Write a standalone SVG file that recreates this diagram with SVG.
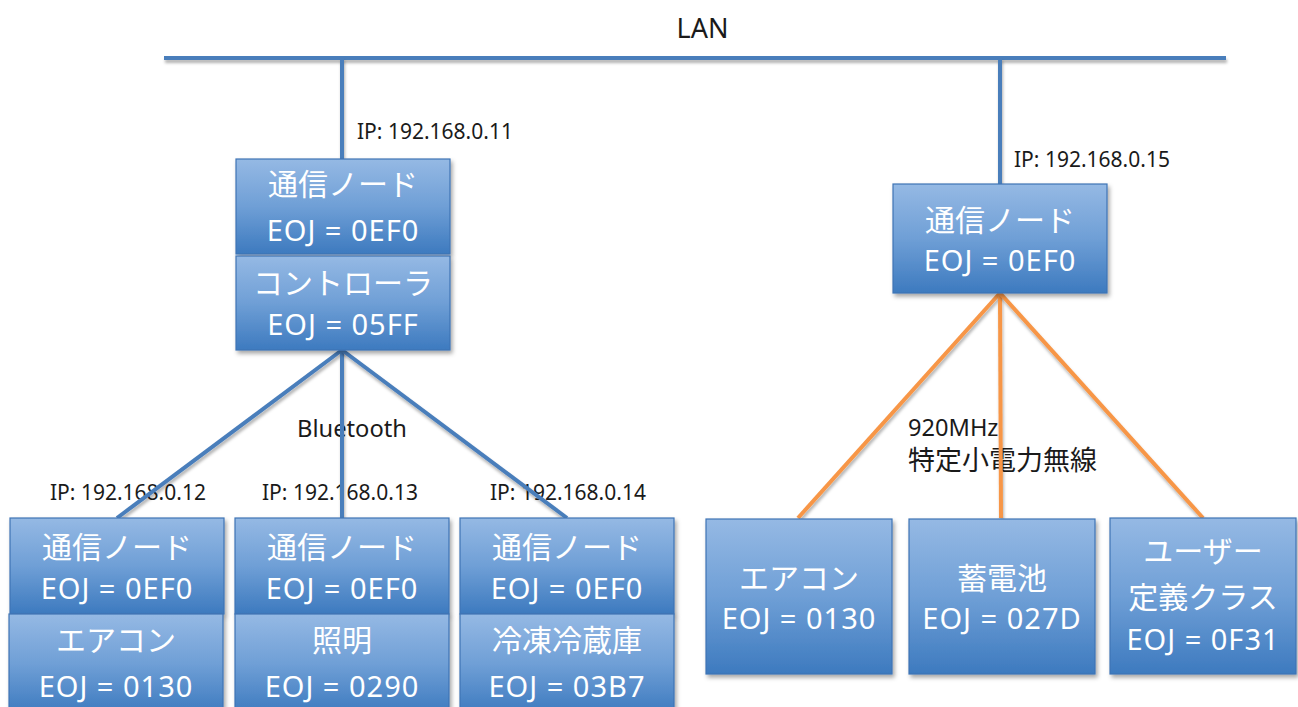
<svg xmlns="http://www.w3.org/2000/svg" width="1298" height="707" viewBox="0 0 1298 707">
  <defs>
    <linearGradient id="boxFill" x1="0" y1="0" x2="0" y2="1">
      <stop offset="0" stop-color="#95b9e4"/>
      <stop offset="0.5" stop-color="#6f9fd6"/>
      <stop offset="1" stop-color="#3d7abf"/>
    </linearGradient>
    <filter id="shadow" x="-10%" y="-10%" width="125%" height="130%">
      <feDropShadow dx="2" dy="3" stdDeviation="2" flood-color="#000" flood-opacity="0.35"/>
    </filter>
    <filter id="lineShadow" filterUnits="userSpaceOnUse" x="0" y="0" width="1298" height="707">
      <feDropShadow dx="1" dy="3" stdDeviation="1.5" flood-color="#000" flood-opacity="0.3"/>
    </filter>
  </defs>
  <style>
    .box { fill: url(#boxFill); stroke: #3f74b5; stroke-width: 1.2; filter: url(#shadow); }
    .jp { font-family: "Noto Sans CJK JP", "Noto Sans", sans-serif; font-size: 30px; fill: #ffffff; text-anchor: middle; }
    .eoj { font-family: "Noto Sans", "Noto Sans CJK JP", sans-serif; font-size: 29px; letter-spacing: 1px; fill: #ffffff; text-anchor: middle; }
    .lbl { font-family: "Noto Sans", "Noto Sans CJK JP", sans-serif; fill: #1a1a1a; }
    .ip { font-size: 21px; }
    .blue { stroke: #4a7ebb; stroke-width: 4; fill: none; filter: url(#lineShadow); }
    .orange { stroke: #f79646; stroke-width: 4; fill: none; filter: url(#lineShadow); }
  </style>

  <rect width="1298" height="707" fill="#ffffff"/>

  <!-- free labels -->
  <g id="labels">
    <text class="lbl" x="702.5" y="38" font-size="27" text-anchor="middle">LAN</text>
    <text class="lbl ip" x="357" y="139">IP: 192.168.0.11</text>
    <text class="lbl ip" x="1014" y="167">IP: 192.168.0.15</text>
    <text class="lbl ip" x="50" y="500">IP: 192.168.0.12</text>
    <text class="lbl ip" x="262" y="500">IP: 192.168.0.13</text>
    <text class="lbl ip" x="490" y="500">IP: 192.168.0.14</text>
    <text class="lbl" x="297" y="437" font-size="23.7">Bluetooth</text>
    <text class="lbl" x="908" y="436" font-size="23.6">920MHz</text>
    <text class="lbl" x="908" y="470" font-size="27" font-family="Noto Sans CJK JP, sans-serif">特定小電力無線</text>
  </g>

  <!-- connectors -->
  <g id="connectors">
    <line class="blue" x1="164" y1="58" x2="1226" y2="58"/>
    <line class="blue" x1="342" y1="58" x2="342" y2="159"/>
    <line class="blue" x1="1000" y1="58" x2="1000" y2="184"/>
    <line class="blue" x1="342" y1="350" x2="117" y2="518"/>
    <line class="blue" x1="342" y1="350" x2="342" y2="518"/>
    <line class="blue" x1="342" y1="350" x2="567" y2="518"/>
    <line class="orange" x1="1000" y1="293" x2="798" y2="518"/>
    <line class="orange" x1="1000" y1="293" x2="1001" y2="518"/>
    <line class="orange" x1="1000" y1="293" x2="1203" y2="518"/>
  </g>

  <!-- controller side -->
  <g id="node-ctrl-comm">
    <rect class="box" x="236" y="159" width="214" height="95"/>
    <text class="jp" x="343" y="195">通信ノード</text>
    <text class="eoj" x="343" y="241">EOJ = 0EF0</text>
  </g>
  <g id="node-controller">
    <rect class="box" x="236" y="256" width="214" height="94"/>
    <text class="jp" x="343" y="294">コントローラ</text>
    <text class="eoj" x="343" y="335">EOJ = 05FF</text>
  </g>

  <!-- Bluetooth devices -->
  <g id="node-bt1-comm">
    <rect class="box" x="10" y="518" width="214" height="96"/>
    <text class="jp" x="117" y="558">通信ノード</text>
    <text class="eoj" x="117" y="599">EOJ = 0EF0</text>
  </g>
  <g id="node-bt1-aircon">
    <rect class="box" x="9" y="614" width="214" height="100"/>
    <text class="jp" x="116" y="651">エアコン</text>
    <text class="eoj" x="116" y="697">EOJ = 0130</text>
  </g>
  <g id="node-bt2-comm">
    <rect class="box" x="235" y="518" width="214" height="96"/>
    <text class="jp" x="342" y="558">通信ノード</text>
    <text class="eoj" x="342" y="599">EOJ = 0EF0</text>
  </g>
  <g id="node-bt2-light">
    <rect class="box" x="235" y="614" width="214" height="100"/>
    <text class="jp" x="342" y="651">照明</text>
    <text class="eoj" x="342" y="697">EOJ = 0290</text>
  </g>
  <g id="node-bt3-comm">
    <rect class="box" x="460" y="518" width="214" height="96"/>
    <text class="jp" x="567" y="558">通信ノード</text>
    <text class="eoj" x="567" y="599">EOJ = 0EF0</text>
  </g>
  <g id="node-bt3-fridge">
    <rect class="box" x="460" y="614" width="214" height="100"/>
    <text class="jp" x="567" y="651">冷凍冷蔵庫</text>
    <text class="eoj" x="567" y="697">EOJ = 03B7</text>
  </g>

  <!-- 920MHz side -->
  <g id="node-gw-comm">
    <rect class="box" x="893" y="184" width="214" height="109"/>
    <text class="jp" x="1000" y="231">通信ノード</text>
    <text class="eoj" x="1000" y="271">EOJ = 0EF0</text>
  </g>
  <g id="node-rf-aircon">
    <rect class="box" x="706" y="519" width="186" height="155"/>
    <text class="jp" x="799" y="589">エアコン</text>
    <text class="eoj" x="799" y="629">EOJ = 0130</text>
  </g>
  <g id="node-rf-battery">
    <rect class="box" x="909" y="519" width="186" height="155"/>
    <text class="jp" x="1002" y="589">蓄電池</text>
    <text class="eoj" x="1002" y="629">EOJ = 027D</text>
  </g>
  <g id="node-rf-user">
    <rect class="box" x="1110" y="518" width="186" height="156"/>
    <text class="jp" x="1203" y="562">ユーザー</text>
    <text class="jp" x="1203" y="608">定義クラス</text>
    <text class="eoj" x="1203" y="650">EOJ = 0F31</text>
  </g>
</svg>
